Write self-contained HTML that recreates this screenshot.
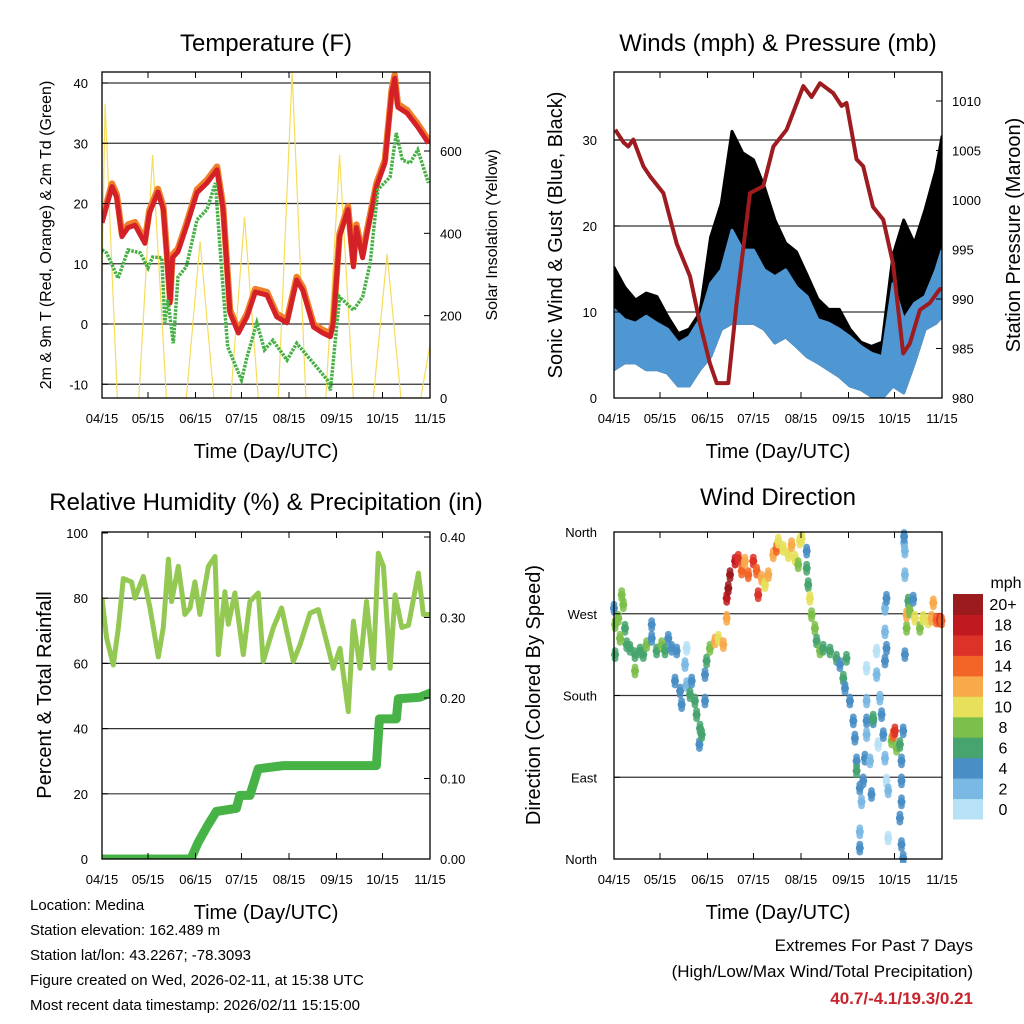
<!DOCTYPE html>
<html><head><meta charset="utf-8"><style>
html,body{margin:0;padding:0;background:#fff;}
svg{display:block;font-family:"Liberation Sans",Arial,sans-serif;}
</style></head><body>
<svg id="c" width="1024" height="1024" viewBox="0 0 1024 1024" xmlns="http://www.w3.org/2000/svg">
<rect width="1024" height="1024" fill="#fff"/>
<g id="layer"></g>
<g font-size="15" fill="#000">
<text x="30" y="910">Location: Medina</text>
<text x="30" y="935">Station elevation: 162.489 m</text>
<text x="30" y="960">Station lat/lon: 43.2267; -78.3093</text>
<text x="30" y="985">Figure created on Wed, 2026-02-11, at 15:38 UTC</text>
<text x="30" y="1010">Most recent data timestamp: 2026/02/11 15:15:00</text>
</g>
<g font-size="17" text-anchor="end">
<text x="973" y="951">Extremes For Past 7 Days</text>
<text x="973" y="977">(High/Low/Max Wind/Total Precipitation)</text>
<text x="973" y="1004" fill="#c8232c" font-weight="bold">40.7/-4.1/19.3/0.21</text>
</g>
</svg>
<script>
// ---- data (day offset from 04/15) ----
const xTickLabels = ["04/15","05/15","06/15","07/15","08/15","09/15","10/15","11/15"];
const xTickDays = [0,30,61,91,122,153,183,214];
// Temperature
const tDays = [0,6.5,9.6,13,17,21.5,28,31,36.5,40,42,44.4,46,49.6,55,62,68.5,75,79,83.5,89,94.6,100,107.6,114,120.7,127,131,138,144,149,151,155,160.5,164,166,170,172.5,179,184.6,189,191,193,199,206,213];
const tempT = [16.8,22.8,21,14.5,16,16.4,13.4,18.4,21.9,19,12.3,3.5,11,12,16.1,21.8,23.4,25.6,19,1.8,-1.5,1.2,5.3,4.8,1.2,0.2,7.3,5.6,-0.5,-1.5,-2.1,0.2,14.5,19,9.5,16,11,14.5,22.8,26.7,38.4,40.8,36,35,32.7,30];
const tdDays = [0,3,10.5,17,25,30,33,39,41,43,46.5,49.6,55,62,68.5,74,78,82,91,94.6,101,106,111.5,120.7,127,138,147,149,155,164,170,175,180,188,192,196,201,206,213];
const tempTd = [12.3,11.8,7.6,12.3,11.8,9.3,11.1,11,0.2,4,-3.2,7.8,9.5,17.3,19,23.4,9,-3.8,-9.3,-5.5,0.2,-4.3,-2.7,-6,-3.2,-6.5,-9.3,-11,4.5,2.3,4.5,10.1,22.3,24.4,31.7,27.2,26.7,28.9,23.4];
const solarDays = [0,2,10,24,33,42,55,64,73,84,93,102,115,124,133,146,155,164,177,186,195,208,214];
const solarVals = [300,715,0,0,590,0,0,380,0,0,440,0,0,790,0,0,590,0,0,350,0,0,130];
// Winds
const windDays = [0,7,14,21,28,35,42,49,56,63,70,77,84,91,98,105,112,119,126,133,140,147,154,161,168,175,182,189,196,203,210,214];
const windLo = [3.3,4.1,4.1,3.3,3.3,2.9,1.4,1.4,3.3,4.8,8.0,8.7,8.7,8.7,8.0,6.4,7.1,6.0,4.8,4.1,3.3,2.5,1.4,1.0,0.2,0,1.4,0.6,4.1,8.0,8.7,9.5];
const windHi = [10.3,9.1,8.7,9.5,8.7,8.0,6.4,7.1,9.1,13.3,14.9,19.5,17.2,17.2,14.9,14.1,14.9,12.9,11.8,9.1,8.7,8.0,7.1,6.0,5.2,4.8,13.3,9.1,11.0,11.8,14.9,17.2];
const gustHi = [15.2,12.9,11.4,12.2,11.8,9.5,7.5,8.0,9.9,18.7,22.6,31,28.5,27.7,24.6,20.7,18,17,14.3,11.5,10.3,10.3,8.0,6.5,6,6.5,16.6,20.7,18,21.9,26.5,30.4];
const presDays = [0.8,6.3,9.3,12.6,19.2,23.5,32.2,40.9,49.6,56,62.6,67,74.6,80,88.7,97.4,104,112.6,123.5,128.9,134.4,143,148.5,151.7,158.3,162.6,169,175.7,182,188.7,193,199.6,206,212.6,214];
const presVals = [1007.1,1005.8,1005.4,1006.1,1003.4,1002.4,1000.7,995.6,992.3,987.6,983.5,981.5,981.5,989.6,1000.7,1001.4,1005.4,1007.1,1011.5,1010.4,1011.8,1010.8,1009.5,1009.8,1004.1,1003.4,999.3,998.0,993.6,984.5,985.5,988.9,989.6,991,991];
// RH & precip
const rhDays = [0,3,7.4,10.7,13.9,19.3,21.5,27,31.3,36.7,40,43.3,45.4,49.8,54.1,57.4,60.6,63.9,69.4,73.7,75.9,80.2,82.4,86.7,92.2,96.5,102,105.2,111.8,117.2,124.8,129.2,135.7,141.1,146.5,150.9,155.3,160.7,164,168.3,172.6,177,180.3,183.6,188,191.2,195.6,200,206.4,209.7,214];
const rhVals = [80,67.8,59.5,71,86,85,80,86.7,77,62,71,92,79,89.8,75,77,85,75,89.8,92.8,62.7,82,72,81.6,62.7,79,81.6,60.6,71,77,60.6,65.7,75.4,76.5,66.8,58.5,64.6,45.2,72.9,58.5,79,58.5,93.8,89.8,58.5,81,71,71.7,87.7,75,75];
const prDays = [0,58,62.6,69,74.6,87.7,89.9,96.5,101.9,118.3,179,181,192,193.3,207.4,214];
const prVals = [0,0,0.02,0.042,0.059,0.063,0.079,0.079,0.112,0.116,0.116,0.174,0.174,0.199,0.201,0.206];
// Wind direction
const dirDays = [0,0.7,0.7,2.8,5,6.1,7.2,3.9,8.3,10.4,13.7,13.7,17,19.1,21.3,24.6,24.6,27.8,31.1,33.3,35.4,37.6,40.9,39.8,47.4,46.3,43.1,44.1,47.4,49.6,50.7,52.8,53.9,56.1,55.7,57.2,59.4,59.4,60.4,62.6,65.9,68.1,71.3,73.5,73.5,74.6,75.7,79,81.1,83.3,85.4,87.6,90.9,93.1,94.1,96.3,98.5,100.7,103.9,106.1,107.2,110.4,113.7,115.9,118.1,121.3,120.2,122.4,125.7,125.7,126.7,127.8,128.9,131.1,132.2,134.4,136.5,140.9,145.2,147.4,149.6,151.7,150.7,153.9,156.1,157.2,158.3,158.3,160.4,162.6,161.5,160.4,160.4,163.7,164.8,164.8,167,168,164.8,164.8,169.1,171.3,171.3,169.1,172.4,173.5,174.6,175.7,176.8,176.8,176.8,177.8,177.8,176.8,177.8,178.9,178.9,181.1,182.2,183.3,184.4,186.5,187.6,187.6,187.6,186.5,187.6,188.7,188.7,189.8,189.8,189.3,189.3,189.8,190.9,190.9,192,193,195.2,196.3,199.6,201.7,205,207.2,208.3,210.4,212.6,213.7];
const dirVals = [276,258,225,265,291,280,254,243,236,232,225,207,229,225,236,243,258,229,236,229,243,232,229,196,232,214,185,170,192,181,196,174,159,144,126,137,174,203,218,232,240,243,236,265,287,298,313,328,331,317,328,313,328,317,291,309,302,313,335,342,350,342,335,346,331,350,324,353,339,320,302,287,269,254,240,229,232,229,221,214,199,221,188,174,152,133,108,97,78,86,63,30,12,111,152,137,108,71,174,210,152,203,229,155,126,177,159,137,218,250,276,287,232,111,86,75,23,130,137,141,122,126,108,86,63,45,16,1,141,225,313,348,355,339,254,269,284,273,286,265,254,265,262,265,282,263,263,262];
const dirSpeed = [4,8,6,8,8,8,6,8,6,6,6,8,6,6,8,4,4,6,8,6,4,4,4,4,0,2,4,4,2,6,4,6,6,6,4,6,4,4,6,8,12,10,12,12,18,20,20,18,16,14,12,14,16,14,16,12,10,12,12,14,10,10,10,12,10,10,8,10,4,6,6,10,8,8,6,8,6,6,6,4,6,6,4,4,4,4,4,6,4,4,2,2,4,4,4,2,2,4,2,0,4,2,0,6,0,2,4,4,4,2,2,4,4,2,0,2,0,8,14,16,8,6,4,4,4,4,4,4,4,4,2,2,4,2,8,12,6,8,4,10,8,10,10,12,12,14,16,14];
const cbLabels = ["0","2","4","6","8","10","12","14","16","18","20+"];
const cbColors = ["#b7e2f6","#7ab9e3","#4a8ec6","#47a46e","#7cbf4a","#e6e05a","#f8a94a","#f26527","#dd3228","#c0191f","#9b1a1e"];

const NS="http://www.w3.org/2000/svg";
const layer=document.getElementById('layer');
function mk(tag,attrs,parent){const e=document.createElementNS(NS,tag);for(const k in attrs)e.setAttribute(k,attrs[k]);(parent||layer).appendChild(e);return e;}
function txt(x,y,s,attrs,parent){const e=mk('text',Object.assign({x:x,y:y},attrs),parent);e.textContent=s;return e;}

const X0L=102,X0R=614,PW=328;
function xs(x0){return d=>x0+d/214*PW;}
function lin(v0,p0,v1,p1){return v=>p0+(v-v0)*(p1-p0)/(v1-v0);}
function pathFrom(xa,ya,fx,fy){return xa.map((d,i)=>(i?'L':'M')+fx(d).toFixed(1)+','+fy(ya[i]).toFixed(1)).join('');}

function frame(x0,yT,yB,name){
  const g=mk('g',{});
  
  
  return g;
}
function xAxis(g,x0,yT,yB){
  const fx=xs(x0);
  xTickDays.forEach((d,i)=>{
    const x=fx(d);
    const t1=mk('line',{x1:x,x2:x,y1:yB,y2:yB-6,stroke:'#000','stroke-width':1},g);
    
    
    mk('line',{x1:x,x2:x,y1:yT,y2:yT+6,stroke:'#000','stroke-width':1},g);
    const l=txt(x,yB+25,xTickLabels[i],{'font-size':13,'text-anchor':'middle'},g);
    
    
  });
  const t=txt(x0+PW/2,yB+60,'Time (Day/UTC)',{'font-size':20,'text-anchor':'middle'},g);
  
  
}
function grid(g,x0,ys){ys.forEach(y=>mk('line',{x1:x0,x2:x0+PW,y1:y,y2:y,stroke:'#333','stroke-width':1.2},g));}
function border(g,x0,yT,yB){const r=mk('rect',{x:x0,y:yT,width:PW,height:yB-yT,fill:'none',stroke:'#000','stroke-width':1.3},g);}
function leftTicks(g,x0,vals,labels,fy,anchorX){
  vals.forEach((v,i)=>{const y=fy(v);mk('line',{x1:x0,x2:x0+6,y1:y,y2:y,stroke:'#000'},g);
    const l=txt(anchorX,y+5,labels[i],{'font-size':13,'text-anchor':'end'},g);
    
    });
}
function rightTicks(g,x1,vals,labels,fy){
  vals.forEach((v,i)=>{const y=fy(v);mk('line',{x1:x1-6,x2:x1,y1:y,y2:y,stroke:'#000'},g);
    const l=txt(x1+10,y+5,labels[i],{'font-size':13},g);
    
    });
}
function vtitle(g,x,y,s,size,name){const t=txt(0,0,s,{'font-size':size,'text-anchor':'middle',transform:`translate(${x},${y}) rotate(-90)`},g);}
function title(g,x,y,s,name){const t=txt(x,y,s,{'font-size':24,'text-anchor':'middle'},g);}

// ---------- Panel 1: Temperature ----------
(function(){
  const yT=72,yB=398,g=frame(X0L,yT,yB,'temperature-panel');const fx=xs(X0L);
  const fy=lin(0,324,40,83), fs=lin(0,398,600,151);
  grid(g,X0L,[40,30,20,10,0,-10].map(fy));
  const cp=mk('clipPath',{id:'cp1'},g);mk('rect',{x:X0L,y:yT,width:PW,height:yB-yT},cp);
  const pg=mk('g',{'clip-path':'url(#cp1)'},g);
  const s=mk('path',{d:pathFrom(solarDays,solarVals,fx,fs),fill:'none',stroke:'#f7dc5a','stroke-width':1.2},pg);
  
  const o=mk('path',{d:pathFrom(tDays,tempT.map(v=>v+0.5),fx,fy),fill:'none',stroke:'#f07f2a','stroke-width':6.5,'stroke-linejoin':'round'},pg);
  
  const r=mk('path',{d:pathFrom(tDays,tempT,fx,fy),fill:'none',stroke:'#d42027','stroke-width':5,'stroke-linejoin':'round'},pg);
  
  const gr=mk('path',{d:pathFrom(tdDays,tempTd,fx,fy),fill:'none',stroke:'#45b043','stroke-width':3.5,'stroke-dasharray':'2.5 1.2'},pg);
  
  border(g,X0L,yT,yB);
  leftTicks(g,X0L,[40,30,20,10,0,-10],["40","30","20","10","0","-10"],fy,88);
  rightTicks(g,X0L+PW,[0,200,400,600],["0","200","400","600"],fs);
  xAxis(g,X0L,yT,yB);
  title(g,266,51,'Temperature (F)','temperature-title');
  vtitle(g,51,235,'2m & 9m T (Red, Orange) & 2m Td (Green)',16,'y-axis-title-left');
  vtitle(g,497,235,'Solar Insolation (Yellow)',16,'y-axis-title-right');
})();

// ---------- Panel 2: Winds ----------
(function(){
  const yT=72,yB=398,g=frame(X0R,yT,yB,'winds-panel');const fx=xs(X0R);
  const fy=lin(0,398,30,140), fp=lin(980,398,1010,101);
  grid(g,X0R,[30,20,10].map(fy));
  const cp=mk('clipPath',{id:'cp2'},g);mk('rect',{x:X0R,y:yT,width:PW,height:yB-yT},cp);
  const pg=mk('g',{'clip-path':'url(#cp2)'},g);
  function band(lo,hi,fill,name){
    let d=windDays.map((t,i)=>(i?'L':'M')+fx(t).toFixed(1)+','+fy(hi[i]).toFixed(1)).join('');
    for(let i=windDays.length-1;i>=0;i--)d+='L'+fx(windDays[i]).toFixed(1)+','+fy(lo[i]).toFixed(1);
    const p=mk('path',{d:d+'Z',fill:fill,stroke:fill,'stroke-width':3,'stroke-linejoin':'round'},pg);
    
  }
  band(windLo,gustHi,'#000','gust-band');
  band(windLo,windHi,'#4f97d2','wind-band');
  const p=mk('path',{d:pathFrom(presDays,presVals,fx,fp),fill:'none',stroke:'#9e1b1f','stroke-width':4,'stroke-linejoin':'round'},pg);
  
  border(g,X0R,yT,yB);
  leftTicks(g,X0R,[0,10,20,30],["0","10","20","30"],fy,597);
  rightTicks(g,X0R+PW,[980,985,990,995,1000,1005,1010],["980","985","990","995","1000","1005","1010"],fp);
  xAxis(g,X0R,yT,yB);
  title(g,778,51,'Winds (mph) & Pressure (mb)','winds-title');
  vtitle(g,562,235,'Sonic Wind & Gust (Blue, Black)',20,'y-axis-title-left');
  vtitle(g,1020,235,'Station Pressure (Maroon)',20,'y-axis-title-right');
})();

// ---------- Panel 3: RH & precip ----------
(function(){
  const yT=532,yB=859,g=frame(X0L,yT,yB,'humidity-panel');const fx=xs(X0L);
  const fy=lin(0,859,100,533), fp=lin(0,859,0.4,537);
  grid(g,X0L,[80,60,40,20].map(fy));
  const cp=mk('clipPath',{id:'cp3'},g);mk('rect',{x:X0L,y:yT,width:PW,height:yB-yT},cp);
  const pg=mk('g',{'clip-path':'url(#cp3)'},g);
  const r=mk('path',{d:pathFrom(rhDays,rhVals,fx,fy),fill:'none',stroke:'#93c953','stroke-width':5,'stroke-linejoin':'round'},pg);
  
  const p=mk('path',{d:pathFrom(prDays,prVals,fx,fp),fill:'none',stroke:'#47b347','stroke-width':9,'stroke-linejoin':'round','stroke-linecap':'round'},pg);
  
  border(g,X0L,yT,yB);
  leftTicks(g,X0L,[0,20,40,60,80,100],["0","20","40","60","80","100"],fy,88);
  rightTicks(g,X0L+PW,[0,0.1,0.2,0.3,0.4],["0.00","0.10","0.20","0.30","0.40"],fp);
  xAxis(g,X0L,yT,yB);
  title(g,266,510,'Relative Humidity (%) & Precipitation (in)','humidity-title');
  vtitle(g,51,695,'Percent & Total Rainfall',20,'y-axis-title-left');
})();

// ---------- Panel 4: Wind direction ----------
(function(){
  const yT=532,yB=859,g=frame(X0R,yT,yB,'wind-direction-panel');const fx=xs(X0R);
  const fy=lin(0,859,360,532);
  grid(g,X0R,[270,180,90].map(fy));
  const cp=mk('clipPath',{id:'cp4'},g);mk('rect',{x:X0R-4,y:yT-4,width:PW+8,height:yB-yT+8},cp);
  const pg=mk('g',{'clip-path':'url(#cp4)'},g);
  dirDays.forEach((d,i)=>{
    const bin=Math.min(10,Math.floor(dirSpeed[i]/2));
    const cx=fx(d), cy=fy(dirVals[i]);
    [-4,4].forEach(off=>{
      const s=mk('circle',{cx:cx.toFixed(1),cy:(cy+off).toFixed(1),r:3.4,fill:cbColors[bin],opacity:0.85},pg);
      
      
    });
    const c=mk('circle',{cx:cx.toFixed(1),cy:cy.toFixed(1),r:4,fill:cbColors[bin]},pg);
    
    
  });
  border(g,X0R,yT,yB);
  leftTicks(g,X0R,[0,90,180,270,360],["North","East","South","West","North"],fy,597);
  xAxis(g,X0R,yT,yB);
  title(g,778,505,'Wind Direction','wind-direction-title');
  vtitle(g,540,695,'Direction (Colored By Speed)',20,'y-axis-title-left');
  const cb=mk('g',{},g);
  
  
  const h=(819-594)/11;
  cbColors.forEach((col,i)=>{
    const y=819-(i+1)*h;
    const r=mk('rect',{x:953,y:y.toFixed(1),width:30,height:(h+0.5).toFixed(1),fill:col},cb);
    
    
    const l=txt(1003,y+h/2+6,cbLabels[i],{'font-size':16,'text-anchor':'middle'},cb);
    
    
  });
  const u=txt(1006,588,'mph',{'font-size':16,'text-anchor':'middle'},cb);
  
  
})();
</script>
</body></html>
